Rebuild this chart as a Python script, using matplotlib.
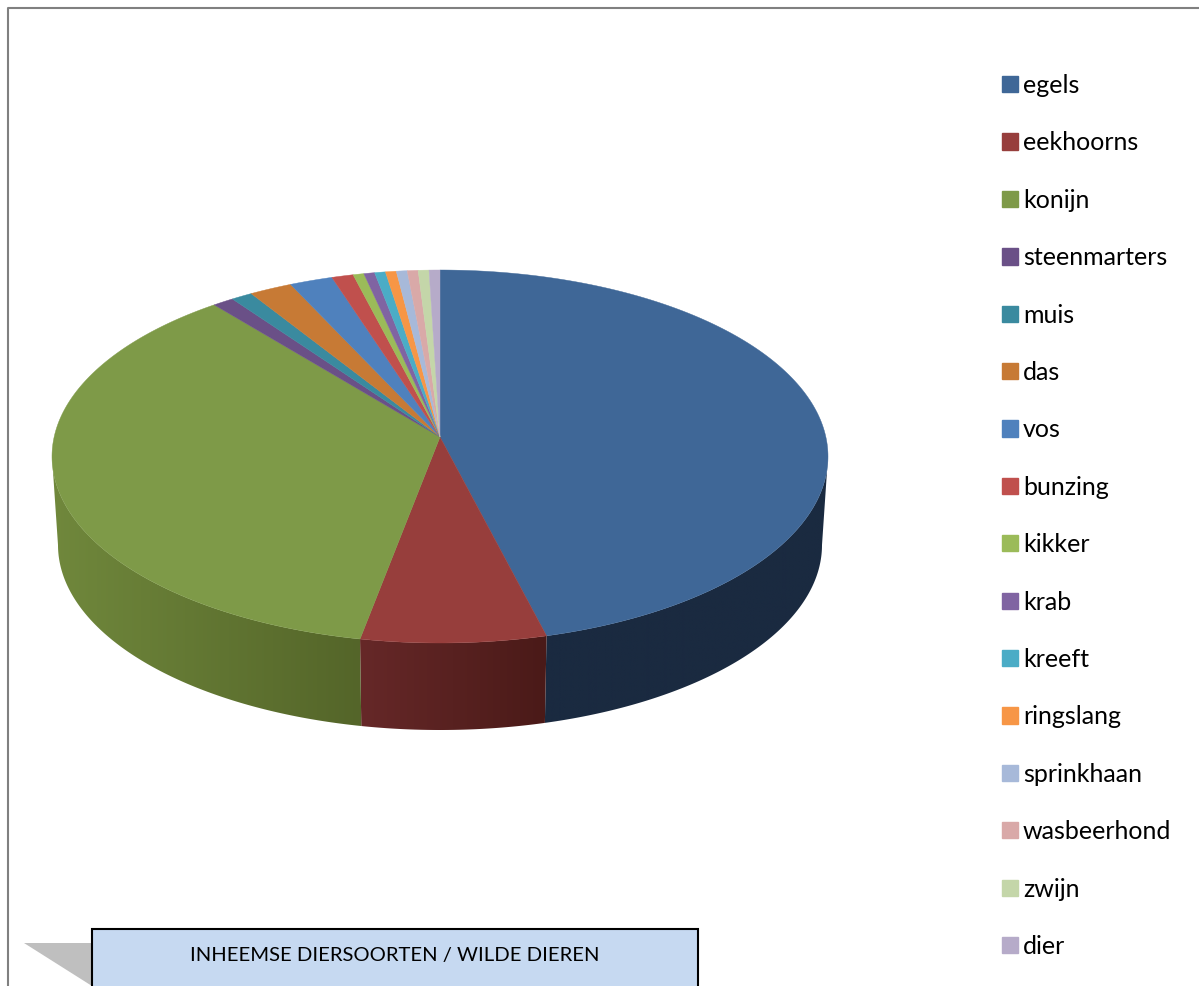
#!/usr/bin/env python3
import numpy as np
from matplotlib import pyplot as plt
from matplotlib.colors import to_rgb
from matplotlib.patches import Patch, Polygon, Rectangle

animals = ['egels', 'eekhoorns', 'konijn', 'steenmarters', 'muis', 'das', 'vos', 'bunzing',
           'kikker', 'krab', 'kreeft', 'ringslang', 'sprinkhaan', 'wasbeerhond', 'zwijn', 'dier']
counts = [101.4, 17.2, 81.9, 2, 2, 4, 4, 2, 1, 1, 1, 1, 1, 1, 1, 1]
colors = ['#3f6797', '#973e3c', '#7e9a48', '#6a5087', '#3a8a9f', '#c77a35', '#4f81bd', '#c0504d',
          '#9bbb59', '#8064a2', '#4bacc6', '#f79646', '#a7b9d9', '#d9a9a8', '#c4d6a9', '#b6abc9']
title = 'INHEEMSE DIERSOORTEN / WILDE DIEREN'

# side colours per visible slice: (left end, right end) of the shading
side_shades = {'egels': ('#1a2a40', '#1a2a40'),
               'eekhoorns': ('#662828', '#4a1a18'),
               'konijn': ('#70883c', '#546529')}

plt.rcParams['font.family'] = ['Lato', 'DejaVu Sans']

# top ellipse, bottom ellipse and apex, in image pixels
CX, CY, A, B = 440, 456.5, 388, 186.5
LOW_CY, LOW_A, LOW_B = 545, 382, 185
APEX_Y = 437


def top_edge(theta):
    return CX + A * np.sin(theta), CY - B * np.cos(theta)


def low_edge(theta):
    return CX + LOW_A * np.sin(theta), LOW_CY - LOW_B * np.cos(theta)


def draw_side(ax, start, end, shade):
    # only the front half of the pie shows a side
    start, end = max(start, np.pi / 2), min(end, 3 * np.pi / 2)
    if start >= end:
        return
    theta = np.linspace(start, end, 120)
    tx, ty = top_edge(theta)
    lx, ly = low_edge(theta)
    outline = np.column_stack((np.r_[tx, lx[::-1]], np.r_[ty, ly[::-1]]))
    poly = Polygon(outline, closed=True, facecolor='none', edgecolor='none')
    ax.add_patch(poly)

    left, right = np.array(to_rgb(shade[0])), np.array(to_rgb(shade[1]))
    frac = np.linspace(0, 1, 256)[:, None]
    gradient = (left * (1 - frac) + right * frac)[None, :, :]
    img = ax.imshow(gradient, extent=(outline[:, 0].min(), outline[:, 0].max(),
                                      outline[:, 1].max(), outline[:, 1].min()),
                    aspect='auto', interpolation='bilinear', zorder=1)
    img.set_clip_path(poly)


def main():
    fig = plt.figure(figsize=(11.99, 9.86), dpi=100)
    ax = fig.add_axes([0, 0, 1, 1])

    # outer frame
    ax.plot([8, 8, 1199], [986, 8, 8], color='#808080', lw=1.5, solid_capstyle='butt')

    edges = np.concatenate(([0], np.cumsum(counts))) / np.sum(counts) * 2 * np.pi

    for name, start, end in zip(animals, edges[:-1], edges[1:]):
        if name in side_shades:
            draw_side(ax, start, end, side_shades[name])

    for start, end, color in zip(edges[:-1], edges[1:], colors):
        theta = np.linspace(start, end, max(int((end - start) * 80), 4))
        x, y = top_edge(theta)
        ax.fill(np.r_[CX, x], np.r_[APEX_Y, y], facecolor=color, edgecolor=color, lw=0.3, zorder=2)

    handles = [Patch(facecolor=c, edgecolor=c, label=n) for n, c in zip(animals, colors)]
    ax.legend(handles=handles, loc='upper left', bbox_to_anchor=(1002 / 1199, 1 - 74 / 986),
              frameon=False, fontsize=18, handlelength=0.62, handleheight=0.62,
              handletextpad=0.22, labelspacing=1.376, borderpad=0, borderaxespad=0)

    # callout box at the bottom, cut off by the picture
    ax.add_patch(Polygon([(24, 943), (92, 943), (92, 986)], closed=True,
                         facecolor='#bfbfbf', edgecolor='none', zorder=3))
    ax.add_patch(Rectangle((92, 929), 606, 70, facecolor='#c6d9f1', edgecolor='black', lw=1.5, zorder=3))
    ax.text(395, 955, title, ha='center', va='center', fontsize=14.6, color='black', zorder=4)

    ax.set_xlim(0, 1199)
    ax.set_ylim(986, 0)
    ax.axis('off')

    fig.savefig('out.png', dpi=100, facecolor='white')


if __name__ == '__main__':
    main()
